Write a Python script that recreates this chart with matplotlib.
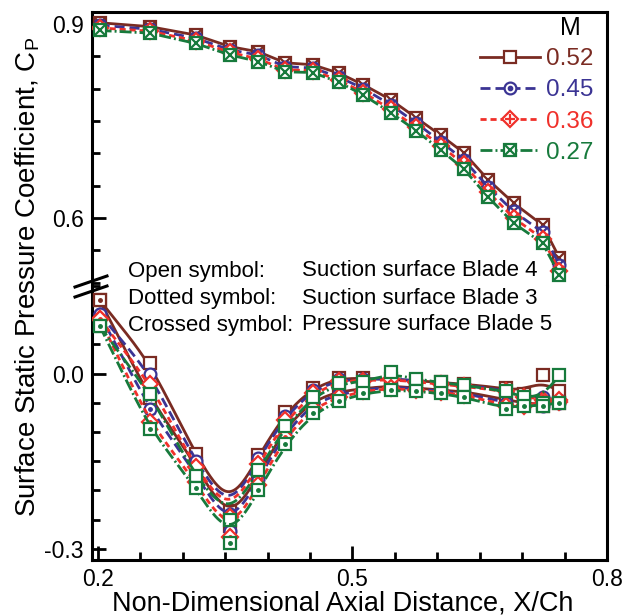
import numpy as np
import matplotlib
matplotlib.use('Agg')
import matplotlib.pyplot as plt
from matplotlib.lines import Line2D
from matplotlib.legend_handler import HandlerTuple

plt.rcParams['font.family'] = ['Liberation Sans', 'DejaVu Sans']

#%% Data
mach_labels = ['0.52', '0.45', '0.36', '0.27']
colors = ['#7a2b22', '#3b3494', '#f0302a', '#177a3c']

# upper branch (crossed symbols, pressure surface Blade 5)
x_upper = [0.202, 0.261, 0.315, 0.356, 0.389, 0.421, 0.453, 0.484, 0.513,
           0.545, 0.575, 0.604, 0.631, 0.660, 0.690, 0.724, 0.744]
cp_upper_052 = [0.902, 0.896, 0.883, 0.865, 0.857, 0.840, 0.837, 0.824, 0.806,
                0.783, 0.755, 0.728, 0.701, 0.659, 0.623, 0.589, 0.538]
cp_upper_045 = [0.898, 0.892, 0.878, 0.860, 0.852, 0.834, 0.832, 0.818, 0.800,
                0.775, 0.747, 0.718, 0.690, 0.648, 0.610, 0.578, 0.527]
cp_upper_036 = [0.894, 0.889, 0.874, 0.856, 0.846, 0.829, 0.828, 0.813, 0.794,
                0.768, 0.740, 0.712, 0.683, 0.640, 0.600, 0.568, 0.518]
cp_upper_027 = [0.890, 0.886, 0.870, 0.852, 0.842, 0.826, 0.825, 0.810, 0.790,
                0.763, 0.735, 0.705, 0.676, 0.632, 0.592, 0.561, 0.512]

# lower branch: open symbols (suction surface Blade 4), dotted symbols (Blade 3)
x_lower = [0.202, 0.261, 0.315, 0.356, 0.389, 0.421, 0.453, 0.484, 0.513,
           0.545, 0.575, 0.604, 0.631, 0.681, 0.702, 0.724, 0.744]
cp_open_052 = [0.126, 0.019, -0.138, -0.235, -0.140, -0.066, -0.024, -0.007, -0.008,
               -0.010, -0.012, -0.015, -0.018, -0.025, -0.035, -0.003, -0.030]
cp_dot_052 = [0.126, -0.041, -0.155, -0.260, -0.174, -0.090, -0.045, -0.030, -0.026,
              -0.020, -0.025, -0.028, -0.030, -0.045, -0.050, -0.055, -0.050]
cp_open_045 = [0.102, 0.000, -0.150, -0.240, -0.145, -0.072, -0.028, -0.010, -0.010,
               -0.008, -0.012, -0.016, -0.020, -0.028, -0.040, -0.040, -0.045]
cp_dot_045 = [0.102, -0.060, -0.170, -0.270, -0.180, -0.100, -0.050, -0.035, -0.028,
              -0.022, -0.026, -0.030, -0.033, -0.050, -0.052, -0.055, -0.050]
cp_open_036 = [0.094, -0.017, -0.160, -0.245, -0.155, -0.080, -0.034, -0.012, -0.012,
               -0.010, -0.014, -0.018, -0.022, -0.030, -0.040, -0.045, -0.048]
cp_dot_036 = [0.094, -0.083, -0.185, -0.280, -0.190, -0.108, -0.058, -0.040, -0.030,
              -0.025, -0.028, -0.032, -0.036, -0.055, -0.055, -0.050, -0.045]
cp_open_027 = [0.082, -0.035, -0.175, -0.250, -0.165, -0.090, -0.040, -0.016, -0.015,
               0.002, -0.010, -0.015, -0.020, -0.030, -0.040, -0.050, -0.003]
cp_dot_027 = [0.082, -0.094, -0.195, -0.290, -0.200, -0.120, -0.068, -0.046, -0.034,
              -0.028, -0.030, -0.034, -0.040, -0.060, -0.055, -0.055, -0.050]

cp_upper = [cp_upper_052, cp_upper_045, cp_upper_036, cp_upper_027]
cp_open = [cp_open_052, cp_open_045, cp_open_036, cp_open_027]
cp_dot = [cp_dot_052, cp_dot_045, cp_dot_036, cp_dot_027]

#%% Styles
linestyles = ['-', (0, (3.6, 1.8)), (0, (2.2, 1.4)), (0, (4.3, 1.1, 0.7, 1.1))]
markers = ['s', 'o', 'D', 's']
overlay = ['', '.', '+', 'x']
LW = 2.0
MS = 8.5


def smooth_curve(x, y, width=0.016, n=600):
    # gaussian smoothing of the linear interpolant (the curve-fit look of the original)
    x = np.asarray(x)
    xs = np.linspace(x[0], x[-1], n)
    ys = np.interp(xs, x, y)
    dx = xs[1] - xs[0]
    k = int(3 * width / dx)
    t = np.arange(-k, k + 1) * dx
    w = np.exp(-0.5 * (t / width) ** 2)
    w /= w.sum()
    left = 2 * ys[0] - ys[k:0:-1]
    right = 2 * ys[-1] - ys[-2:-k - 2:-1]
    ypad = np.concatenate([left, ys, right])
    return xs, np.convolve(ypad, w, mode='valid')


#%% Figure
fig = plt.figure(figsize=(6.36, 6.15), dpi=100)
L, W = 92 / 636, (607 - 92) / 636
y_split = 1 - 286 / 615
ax_top = fig.add_axes([L, y_split, W, (1 - 12 / 615) - y_split])
ax_bot = fig.add_axes([L, 1 - 560 / 615, W, y_split - (1 - 560 / 615)])

for i in range(4):
    c = colors[i]
    # upper branch, crossed symbols
    ax_top.plot(x_upper, cp_upper[i], color=c, ls=linestyles[i], lw=LW,
                marker=markers[i], ms=MS, mfc='white', mec=c, mew=1.6, zorder=3 + i)
    ax_top.plot(x_upper, cp_upper[i], ls='none', marker='x', ms=MS - 1, mec=c,
                mew=1.6, zorder=3 + i)

    # lower branch, open symbols
    xs, ys = smooth_curve(x_lower, cp_open[i])
    ax_bot.plot(xs, ys, color=c, ls=linestyles[i], lw=LW, zorder=3 + i)
    ax_bot.plot(x_lower, cp_open[i], ls='none', marker=markers[i], ms=MS,
                mfc='white', mec=c, mew=1.6, zorder=3 + i)

    # lower branch, dotted symbols
    xs, ys = smooth_curve(x_lower, cp_dot[i])
    ax_bot.plot(xs, ys, color=c, ls=linestyles[i], lw=LW, zorder=3 + i)
    ax_bot.plot(x_lower, cp_dot[i], ls='none', marker=markers[i], ms=MS,
                mfc='white', mec=c, mew=1.6, zorder=3 + i)
    ax_bot.plot(x_lower, cp_dot[i], ls='none', marker='.', ms=5, color=c, zorder=3 + i)

#%% Axes styling
for ax in (ax_top, ax_bot):
    ax.set_xlim(0.193, 0.8)
    for s in ax.spines.values():
        s.set_linewidth(2.2)
    ax.tick_params(axis='both', which='both', direction='in', width=2,
                   labelsize=16.5, top=False, right=False)
    ax.tick_params(which='major', length=10)
    ax.tick_params(which='minor', length=5.5)

ax_top.set_ylim(0.4947, 0.9186)
ax_bot.set_ylim(-0.319, 0.148)
ax_top.spines['bottom'].set_visible(False)
ax_bot.spines['top'].set_visible(False)

ax_top.set_xticks([])
ax_top.set_xticks([], minor=True)
ax_top.set_yticks([0.6, 0.9], ['0.6', '0.9'])
ax_top.set_yticks(np.arange(0.5, 0.91, 0.05), minor=True)

ax_bot.set_xticks([0.2, 0.5, 0.8], ['0.2', '0.5', '0.8'])
ax_bot.set_xticks(np.arange(0.2, 0.81, 0.05), minor=True)
ax_bot.set_yticks([-0.3, 0.0], ['-0.3', '0.0'])
ax_bot.set_yticks(np.arange(-0.3, 0.16, 0.05), minor=True)
ax_bot.tick_params(axis='x', pad=6)
ax_top.tick_params(axis='y', pad=6)
ax_bot.tick_params(axis='y', pad=6)

# axis break marks
for yb in (281, 291):
    fig.add_artist(Line2D([75 / 636, 107 / 636],
                          [1 - (yb + 6) / 615, 1 - (yb - 5) / 615],
                          transform=fig.transFigure, color='black', lw=2.2))

fig.text(28 / 636, 1 - 277 / 615, 'Surface Static Pressure Coefficient, C$_\\mathregular{P}$',
         rotation=90, ha='center', va='center', fontsize=20)
fig.text(343 / 636, 1 - 603 / 615, 'Non-Dimensional Axial Distance, X/Ch',
         ha='center', va='center', fontsize=19.5)

# symbol notes
notes_left = ['Open symbol:', 'Dotted symbol:', 'Crossed symbol:']
notes_right = ['Suction surface Blade 4', 'Suction surface Blade 3', 'Pressure surface Blade 5']
for j, yy in enumerate([271, 298, 325]):
    fig.text(128 / 636, 1 - yy / 615, notes_left[j], ha='left', va='center', fontsize=16)
    fig.text(302 / 636, 1 - yy / 615, notes_right[j], ha='left', va='center', fontsize=16)

#%% Legend
handles = []
for i in range(4):
    h1 = Line2D([], [], color=colors[i], ls=linestyles[i], lw=LW, marker=markers[i],
                ms=MS, mfc='white', mec=colors[i], mew=1.6)
    if overlay[i]:
        h2 = Line2D([], [], ls='none', marker=overlay[i], ms=5 if overlay[i] == '.' else MS - 1,
                    color=colors[i], mew=1.6)
        handles.append((h1, h2))
    else:
        handles.append(h1)
leg = ax_top.legend(handles, mach_labels, loc='upper left',
                    bbox_to_anchor=(480 / 636, 1 - 48 / 615), bbox_transform=fig.transFigure,
                    frameon=False, fontsize=17.5, handlelength=2.45,
                    handletextpad=0.25, labelspacing=0.38, borderaxespad=0, borderpad=0,
                    handler_map={tuple: HandlerTuple(ndivide=1)})
for t, c in zip(leg.get_texts(), colors):
    t.set_color(c)
fig.text(570 / 636, 1 - 28 / 615, 'M', ha='center', va='center', fontsize=18)

fig.savefig('out.png', dpi=100)
